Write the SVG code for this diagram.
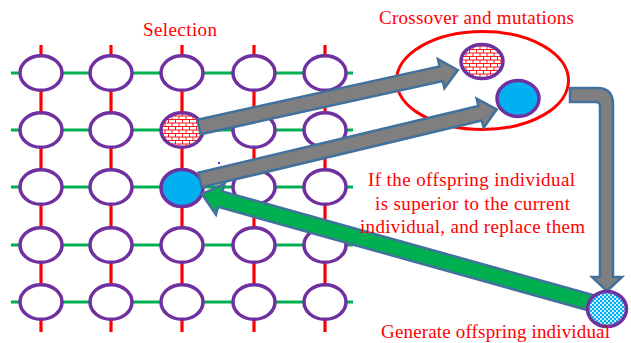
<svg xmlns="http://www.w3.org/2000/svg" width="631" height="343" viewBox="0 0 631 343">
<defs>
<pattern id="brick" patternUnits="userSpaceOnUse" width="7" height="7">
<rect width="7" height="7" fill="#fff"/>
<path d="M0,0.5H7M0,4H7M0.5,0.5V4M4,4V7" stroke="#FF0000" stroke-width="0.9" fill="none"/>
</pattern>
<pattern id="dots" patternUnits="userSpaceOnUse" width="4" height="4">
<rect width="4" height="4" fill="#E6F7FD"/>
<circle cx="1" cy="1" r="1.3" fill="#00B0F0"/>
<circle cx="3" cy="3" r="1.3" fill="#00B0F0"/>
</pattern>
<style>
.v{stroke:#FF0000;stroke-width:3.2;fill:none}
.h{stroke:#00B050;stroke-width:3;fill:none}
.n{fill:#fff;stroke:#7030A0;stroke-width:3.5}
.br{fill:url(#brick);stroke:#7030A0;stroke-width:3.5}
.bl{fill:#00B0F0;stroke:#7030A0;stroke-width:3.5}
.dt{fill:url(#dots);stroke:#7030A0;stroke-width:3.5}
.ga{fill:#7F7F7F;stroke:#41719C;stroke-width:2.5;stroke-linejoin:miter}
.gr{fill:#00B050;stroke:#41719C;stroke-width:2.5;stroke-linejoin:miter}
.t{font-family:"Liberation Serif","Times New Roman",serif;font-size:19px;fill:#FF0000}
</style>
</defs>
<rect width="631" height="343" fill="#fff"/>
<g id="grid-lines">
<path class="v" d="M41,45V332M111,45V332M182,45V332M254,45V332M325,45V332"/>
<path class="h" d="M11,73H353M11,130H353M11,187H353M11,245H353M11,302H353"/>
</g>
<g id="grid-nodes">
<g id="n11"><ellipse class="n" cx="41" cy="73" rx="21" ry="17.3"/></g>
<g id="n12"><ellipse class="n" cx="111" cy="73" rx="21" ry="17.3"/></g>
<g id="n13"><ellipse class="n" cx="182" cy="73" rx="21" ry="17.3"/></g>
<g id="n14"><ellipse class="n" cx="254" cy="73" rx="21" ry="17.3"/></g>
<g id="n15"><ellipse class="n" cx="325" cy="73" rx="21" ry="17.3"/></g>
<g id="n21"><ellipse class="n" cx="41" cy="130" rx="21" ry="17.3"/></g>
<g id="n22"><ellipse class="n" cx="111" cy="130" rx="21" ry="17.3"/></g>
<g id="n23-selected"><ellipse class="br" cx="182" cy="130" rx="21" ry="17.3"/></g>
<g id="n24"><ellipse class="n" cx="254" cy="130" rx="21" ry="17.3"/></g>
<g id="n25"><ellipse class="n" cx="325" cy="130" rx="21" ry="17.3"/></g>
<g id="n31"><ellipse class="n" cx="41" cy="187" rx="21" ry="17.3"/></g>
<g id="n32"><ellipse class="n" cx="111" cy="187" rx="21" ry="17.3"/></g>
<g id="n33-current"><ellipse class="bl" cx="182" cy="188" rx="21" ry="18.5"/></g>
<g id="n34"><ellipse class="n" cx="254" cy="187" rx="21" ry="17.3"/></g>
<g id="n35"><ellipse class="n" cx="325" cy="187" rx="21" ry="17.3"/></g>
<g id="n41"><ellipse class="n" cx="41" cy="245" rx="21" ry="17.3"/></g>
<g id="n42"><ellipse class="n" cx="111" cy="245" rx="21" ry="17.3"/></g>
<g id="n43"><ellipse class="n" cx="182" cy="245" rx="21" ry="17.3"/></g>
<g id="n44"><ellipse class="n" cx="254" cy="245" rx="21" ry="17.3"/></g>
<g id="n45"><ellipse class="n" cx="325" cy="245" rx="21" ry="17.3"/></g>
<g id="n51"><ellipse class="n" cx="41" cy="302" rx="21" ry="17.3"/></g>
<g id="n52"><ellipse class="n" cx="111" cy="302" rx="21" ry="17.3"/></g>
<g id="n53"><ellipse class="n" cx="182" cy="302" rx="21" ry="17.3"/></g>
<g id="n54"><ellipse class="n" cx="254" cy="302" rx="21" ry="17.3"/></g>
<g id="n55"><ellipse class="n" cx="325" cy="302" rx="21" ry="17.3"/></g>
</g>
<g id="crossover">
<ellipse cx="482.5" cy="80.5" rx="86" ry="49" fill="none" stroke="#FF0000" stroke-width="3"/>
</g>
<g id="parent-brick"><ellipse class="br" cx="482" cy="61.5" rx="21" ry="17"/></g>
<g id="parent-blue"><ellipse class="bl" cx="518" cy="98.5" rx="21" ry="18"/></g>
<g id="connectors">
<polygon class="ga" transform="translate(199,127) rotate(-12.4)" points="0,-7.5 248,-7.5 248,-15 265,0 248,15 248,7.5 0,7.5"/>
<polygon class="ga" transform="translate(200,180) rotate(-13.4)" points="0,-7.5 288,-7.5 288,-15 305,0 288,15 288,7.5 0,7.5"/>
<path class="ga" d="M570,88 L597,88 Q613,88 613,104 L613,277 L622,277 L607,291 L592,277 L600,277 L600,106 Q600,102 596,102 L570,102 Z"/>
<polygon class="gr" transform="translate(592,303) rotate(-164.4)" points="0,-8 386,-8 386,-16 405,0 386,16 386,8 0,8"/>
</g>
<g id="offspring"><ellipse class="dt" cx="607" cy="309" rx="19.5" ry="17.5"/></g>
<circle cx="219" cy="163" r="1" fill="#0000FF"/>
<g id="labels">
<text class="t" x="143" y="36" textLength="74">Selection</text>
<text class="t" x="379" y="24" textLength="195">Crossover and mutations</text>
<text class="t" x="368" y="186" textLength="207">If the offspring individual</text>
<text class="t" x="375" y="210" textLength="195">is superior to the current</text>
<text class="t" x="360" y="233" textLength="225">individual, and replace them</text>
<text class="t" x="381" y="338" textLength="229">Generate offspring individual</text>
</g>
</svg>
